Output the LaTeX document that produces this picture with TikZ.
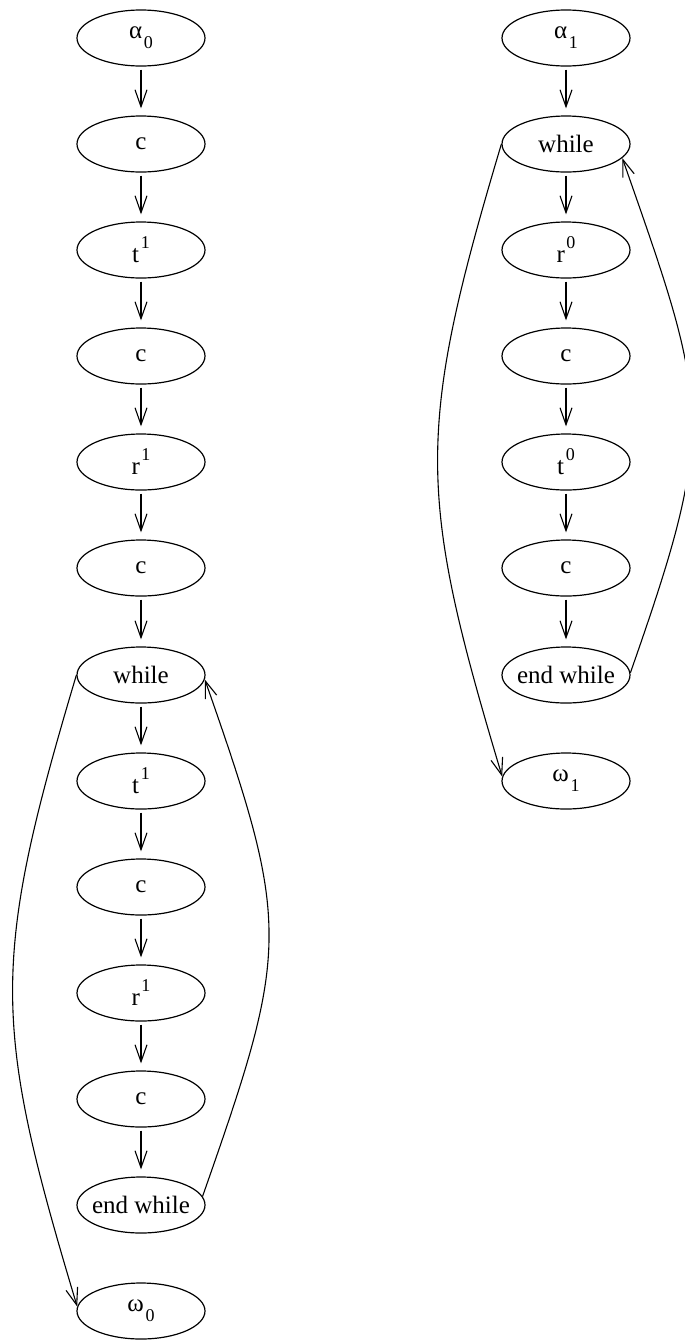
\documentclass[tikz,border=0pt]{standalone}
\usepackage{fontspec}
\setmainfont{Liberation Serif}
\usetikzlibrary{arrows.meta,shapes.geometric}

% index placed below or above a symbol
\newcommand\lowidx[2]{#1\kern0.8pt\raisebox{-5pt}{\fontsize{9}{9}\selectfont #2}}
\newcommand\highidx[2]{#1\kern0.8pt\raisebox{7pt}{\fontsize{9}{9}\selectfont #2}}
% long label kept inside the standard ellipse
\newcommand\narrow[1]{\makebox[40pt]{#1}}

\begin{document}
\begin{tikzpicture}[x=0.5pt,y=-0.5pt,
  state/.style={ellipse,draw,line width=0.6pt,minimum width=64pt,minimum height=28pt,
    inner sep=0pt,font=\fontsize{12.5}{14}\selectfont},
  flow/.style={line width=0.55pt,-{Straight Barb[length=8.5pt,width=6pt]},
    shorten <=1.5pt,shorten >=3.5pt},
  loop/.style={line width=0.55pt,-{Straight Barb[length=8.5pt,width=6pt]}}]
\useasboundingbox (0,0) rectangle (685,1340);

% left program
\node[state] (a0)  at (141,38)   {\lowidx{α}{0}};
\node[state] (c1)  at (141,144)  {c};
\node[state] (t1)  at (141,250)  {\highidx{t}{1}};
\node[state] (c2)  at (141,356)  {c};
\node[state] (r1)  at (141,462)  {\highidx{r}{1}};
\node[state] (c3)  at (141,568)  {c};
\node[state] (w0)  at (141,675)  {while};
\node[state] (t2)  at (141,781)  {\highidx{t}{1}};
\node[state] (c4)  at (141,887)  {c};
\node[state] (r2)  at (141,993)  {\highidx{r}{1}};
\node[state] (c5)  at (141,1099) {c};
\node[state] (ew0) at (141,1205) {\narrow{end while}};
\node[state] (o0)  at (141,1311) {\lowidx{ω}{0}};

% right program
\node[state] (a1)  at (566,38)   {\lowidx{α}{1}};
\node[state] (w1)  at (566,144)  {while};
\node[state] (r3)  at (566,250)  {\highidx{r}{0}};
\node[state] (c6)  at (566,356)  {c};
\node[state] (t3)  at (566,462)  {\highidx{t}{0}};
\node[state] (c7)  at (566,568)  {c};
\node[state] (ew1) at (566,675)  {\narrow{end while}};
\node[state] (o1)  at (566,781)  {\lowidx{ω}{1}};

% sequential edges
\foreach \u/\v in {a0/c1,c1/t1,t1/c2,c2/r1,r1/c3,c3/w0,w0/t2,t2/c4,c4/r2,r2/c5,c5/ew0,
                   a1/w1,w1/r3,r3/c6,c6/t3,t3/c7,c7/ew1}
  \draw[flow] (\u.south) -- (\v.north);

% loop exits
\draw[loop] (w0.west) .. controls +(-86,288) and +(-85,-283) .. (o0.176);
\draw[loop] (w1.west) .. controls +(-86,288) and +(-85,-283) .. (o1.176);

% loop back edges
\draw[loop] (ew0.8) .. controls +(87,-248) and +(87,248) .. (w0.-4);
\draw[loop] (ew1.2) .. controls +(87,-248) and +(87,248) .. (w1.-14);
\end{tikzpicture}
\end{document}
